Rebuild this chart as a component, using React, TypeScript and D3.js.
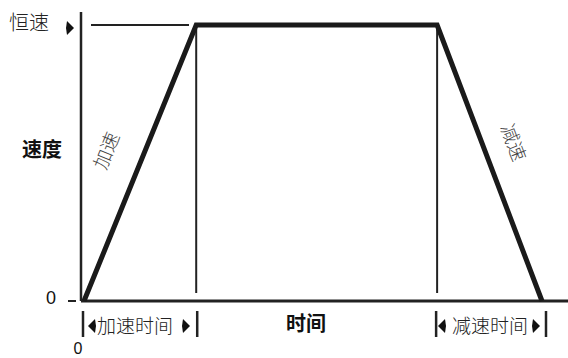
import React from 'react';
import * as d3 from 'd3';

// phase boundaries on the time axis (arbitrary units) and the speed at each
const phaseTimes = [0, 24.5, 77.1, 100];
const phaseSpeeds = [0, 1, 1, 0];
const phaseLabels = ['加速时间', '时间', '减速时间'];
const slopeLabels = ['加速', '减速'];
const speedLabels = ['恒速', '速度', '0'];

const W = 568;
const H = 358;

const cjk = '"Noto Sans CJK SC", "Noto Sans", sans-serif';
const latin = '"Liberation Sans", Arial, sans-serif';

// small filled arrowhead, dir = 1 points right, -1 points left
const arrow = (cx: number, cy: number, dir: number) => {
  const p = d3.path();
  p.moveTo(cx - 3 * dir, cy - 7);
  p.lineTo(cx + 4 * dir, cy);
  p.lineTo(cx - 3 * dir, cy + 7);
  p.lineTo(cx - 4 * dir, cy);
  p.closePath();
  return p.toString();
};

const App = () => {
  const x = d3.scaleLinear().domain([0, 100]).range([84, 542]);
  const y = d3.scaleLinear().domain([0, 1]).range([301, 25]);

  const pts = phaseTimes.map((t, i) => ({ t, v: phaseSpeeds[i] }));
  const line = d3.line<{ t: number; v: number }>()
    .x(d => x(d.t))
    .y(d => y(d.v));

  const axisX = 81;
  const tickXs = [x(phaseTimes[0]) - 1, x(phaseTimes[1]) + 1, x(phaseTimes[2]) - 1, x(phaseTimes[3]) + 4];

  const upAngle = Math.atan2(y(1) - y(0), x(phaseTimes[1]) - x(phaseTimes[0])) * 180 / Math.PI;
  const downAngle = Math.atan2(y(0) - y(1), x(phaseTimes[3]) - x(phaseTimes[2])) * 180 / Math.PI;

  return (
    <svg width={W} height={H} style={{ position: 'absolute', left: 0, top: 0, background: '#fff' }}>
      {/* axes */}
      <line x1={axisX} x2={axisX} y1={12} y2={y(0)} stroke="#222" strokeWidth={2.5} />
      <line x1={axisX} x2={W} y1={y(0)} y2={y(0)} stroke="#222" strokeWidth={3} />

      {/* constant speed reference */}
      <line x1={91} x2={189} y1={y(1)} y2={y(1)} stroke="#222" strokeWidth={2} />
      <path d={arrow(70, 28, 1)} fill="#111" />
      <text x={9} y={30} fontFamily={cjk} fontSize={20} fontWeight={300} fill="#222">{speedLabels[0]}</text>

      <text x={22} y={157} fontFamily={cjk} fontSize={20} fontWeight={700} fill="#111">{speedLabels[1]}</text>

      <text x={51} y={304} fontFamily={latin} fontSize={18} textAnchor="middle" fill="#111">{speedLabels[2]}</text>
      <line x1={68} x2={76} y1={301} y2={301} stroke="#222" strokeWidth={2} />

      {/* phase dividers */}
      {[phaseTimes[1], phaseTimes[2]].map((t, i) => (
        <line key={i} x1={x(t)} x2={x(t)} y1={y(1) + 4} y2={y(0) - 8} stroke="#222" strokeWidth={2} />
      ))}

      {/* speed profile */}
      <path d={line(pts) || ''} fill="none" stroke="#1a1a1a" strokeWidth={5} strokeLinejoin="miter" />

      {/* slope labels */}
      <text transform={`translate(105,150) rotate(${upAngle})`} fontFamily={cjk} fontSize={19} fontWeight={300}
        fill="#444" textAnchor="middle" dominantBaseline="central">{slopeLabels[0]}</text>
      <text transform={`translate(515,142) rotate(${downAngle})`} fontFamily={cjk} fontSize={19} fontWeight={300}
        fill="#444" textAnchor="middle" dominantBaseline="central">{slopeLabels[1]}</text>

      {/* bottom ticks */}
      {tickXs.map((tx, i) => (
        <line key={i} x1={tx} x2={tx} y1={311} y2={337} stroke="#222" strokeWidth={2.5} />
      ))}
      <path d={arrow(92, 326, -1)} fill="#111" />
      <path d={arrow(186, 326, 1)} fill="#111" />
      <path d={arrow(442, 326, -1)} fill="#111" />
      <path d={arrow(536, 326, 1)} fill="#111" />

      <text x={97} y={333} fontFamily={cjk} fontSize={19} fontWeight={300} fill="#222">{phaseLabels[0]}</text>
      <text x={306} y={331} fontFamily={cjk} fontSize={20} fontWeight={700} textAnchor="middle" fill="#111">{phaseLabels[1]}</text>
      <text x={452} y={333} fontFamily={cjk} fontSize={19} fontWeight={300} fill="#222">{phaseLabels[2]}</text>

      <text x={78} y={354} fontFamily={latin} fontSize={16} textAnchor="middle" fill="#111">0</text>
    </svg>
  );
};

export default App;
